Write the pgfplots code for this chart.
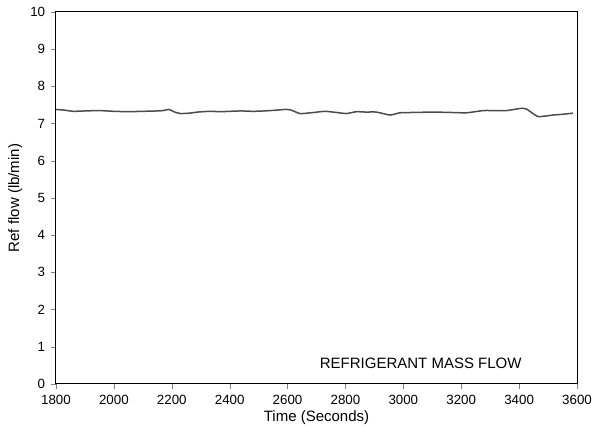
\documentclass[border=0pt]{standalone}
\usepackage{pgfplots}
\pgfplotsset{compat=1.18}
\usepackage{fontspec}
\setmainfont{Liberation Sans}

\begin{document}
\begin{tikzpicture}
\begin{axis}[
    scale only axis,
    width=312.6pt,
    height=223.2pt,
    xmin=1800, xmax=3600,
    ymin=0, ymax=10,
    xtick={1800,2000,...,3600},
    ytick={0,1,...,10},
    xtick pos=bottom,
    ytick pos=left,
    tick align=outside,
    major tick length=3pt,
    x tick label style={/pgf/number format/1000 sep={}},
    /pgf/number format/assume math mode=true,
    tick label style={font=\footnotesize},
    label style={font=\small},
    xlabel={Time (Seconds)},
    ylabel={Ref flow (lb/min)},
    xlabel style={yshift=3pt},
    ylabel style={yshift=-2pt},
    axis line style={line width=0.6pt},
]
\addplot[line width=0.9pt, color=black!70, smooth, tension=0.3] coordinates {
    (1800,7.38) (1830,7.36) (1860,7.33) (1900,7.34) (1950,7.35)
    (2000,7.33) (2050,7.32) (2100,7.33) (2150,7.34) (2170,7.35)
    (2190,7.38) (2210,7.31) (2230,7.27) (2260,7.28) (2290,7.31)
    (2330,7.33) (2370,7.32) (2400,7.33) (2440,7.34) (2480,7.33)
    (2520,7.34) (2560,7.36) (2590,7.38) (2610,7.37) (2643,7.27)
    (2680,7.29) (2729,7.33) (2768,7.30) (2803,7.27) (2838,7.32)
    (2870,7.31) (2907,7.31) (2954,7.23) (2988,7.29) (3040,7.30)
    (3103,7.31) (3160,7.30) (3218,7.29) (3276,7.35) (3320,7.35)
    (3357,7.35) (3390,7.39) (3409,7.41) (3426,7.39) (3465,7.19)
    (3517,7.23) (3550,7.25) (3586,7.28)
};
\node[font=\small] at (axis cs:3060,0.55) {REFRIGERANT MASS FLOW};
\end{axis}
\pgfresetboundingbox
\path (-33.6pt,-25.8pt) rectangle (321.6pt,230.4pt);
\end{tikzpicture}
\end{document}
